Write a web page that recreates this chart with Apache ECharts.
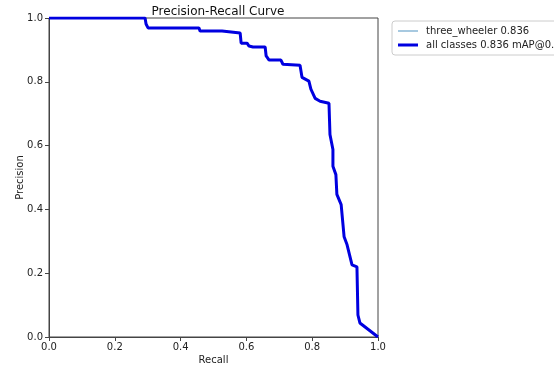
<!DOCTYPE html>
<html>
<head>
<meta charset="utf-8">
<script src="https://cdn.jsdelivr.net/npm/echarts@6/dist/echarts.min.js"></script>
<style>
  html, body { margin: 0; padding: 0; background: #fff; }
  #chart { width: 554px; height: 373px; }
</style>
</head>
<body>
<div id="chart"></div>
<script>
// recall / precision vertices
const recall = [0, 0.292, 0.295, 0.301, 0.456, 0.459, 0.526, 0.529, 0.581, 0.584,
  0.602, 0.608, 0.620, 0.657, 0.660, 0.669, 0.705, 0.711, 0.763, 0.769,
  0.790, 0.796, 0.809, 0.824, 0.851, 0.854, 0.863, 0.863, 0.872, 0.875,
  0.888, 0.897, 0.906, 0.921, 0.936, 0.939, 0.945, 1.0];
const precision = [1.0, 1.0, 0.981, 0.969, 0.969, 0.959, 0.959, 0.953, 0.953, 0.921,
  0.921, 0.912, 0.909, 0.909, 0.881, 0.868, 0.868, 0.855, 0.852, 0.814,
  0.802, 0.777, 0.748, 0.739, 0.733, 0.635, 0.588, 0.535, 0.509, 0.447,
  0.415, 0.314, 0.289, 0.226, 0.220, 0.069, 0.044, 0.0];
const seriesNames = ['three_wheeler 0.836', 'all classes 0.836 mAP@0.5'];

const points = recall.map((r, i) => [r, precision[i]]);
const font = 'DejaVu Sans';

const chart = echarts.init(document.getElementById('chart'));
chart.setOption({
  animation: false,
  title: {
    text: 'Precision-Recall Curve',
    left: 213, top: 1, textAlign: 'center',
    textStyle: { fontFamily: font, fontSize: 12, fontWeight: 'normal', color: '#111' }
  },
  grid: {
    left: 49, right: 176, top: 18, bottom: 36, outerBoundsMode: 'none',
    show: true, borderColor: '#444', borderWidth: 1
  },
  legend: {
    orient: 'vertical', left: 392, top: 21,
    itemWidth: 20, itemHeight: 10, itemGap: 4,
    padding: [5, 6, 5, 6],
    borderColor: '#ccc', borderWidth: 1, borderRadius: 3,
    symbolKeepAspect: true,
    textStyle: { fontFamily: font, fontSize: 10, color: '#222', padding: [0, 0, 0, 3] },
    data: [
      { name: seriesNames[0], icon: 'path://M0 0H20V1H0Z' },
      { name: seriesNames[1], icon: 'path://M0 0H20V3H0Z' }
    ]
  },
  xAxis: {
    type: 'value', min: 0, max: 1, interval: 0.2,
    name: 'Recall', nameLocation: 'middle', nameGap: 18, nameMoveOverlap: false,
    nameTextStyle: { fontFamily: font, fontSize: 10, color: '#222' },
    axisLine: { show: true, lineStyle: { color: '#444' } },
    axisTick: { show: true, length: 4, lineStyle: { color: '#444' } },
    axisLabel: { fontFamily: font, fontSize: 10, color: '#222', margin: 5, formatter: v => v.toFixed(1) },
    splitLine: { show: false }
  },
  yAxis: {
    type: 'value', min: 0, max: 1, interval: 0.2,
    name: 'Precision', nameLocation: 'middle', nameGap: 24, nameMoveOverlap: false,
    nameTextStyle: { fontFamily: font, fontSize: 10, color: '#222' },
    axisLine: { show: true, lineStyle: { color: '#444' } },
    axisTick: { show: true, length: 4, lineStyle: { color: '#444' } },
    axisLabel: { fontFamily: font, fontSize: 10, color: '#222', margin: 6, formatter: v => v.toFixed(1) },
    splitLine: { show: false }
  },
  series: [
    {
      name: seriesNames[0], type: 'line', data: points,
      symbol: 'none', color: '#4f93c0',
      lineStyle: { width: 1, color: '#4f93c0' }
    },
    {
      name: seriesNames[1], type: 'line', data: points,
      symbol: 'none', color: '#0000e0',
      lineStyle: { width: 3, color: '#0000e0' }
    }
  ]
});
</script>
</body>
</html>
